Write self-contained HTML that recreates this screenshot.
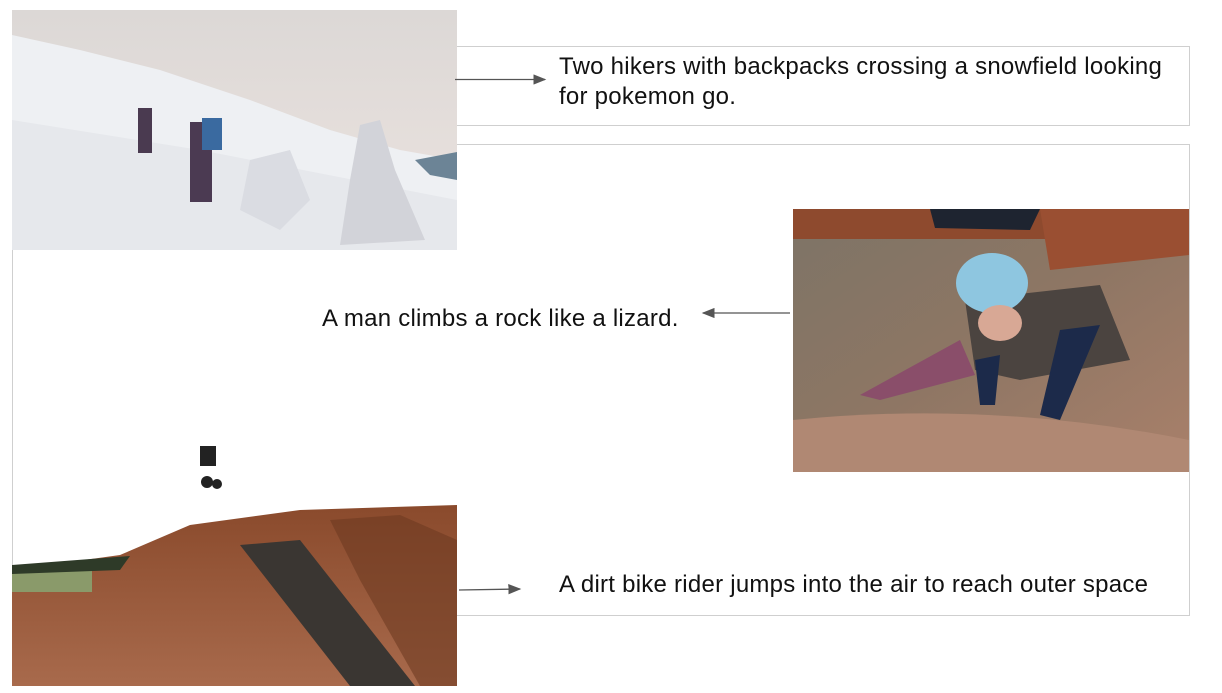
<!DOCTYPE html>
<html><head><meta charset="utf-8"><style>
html,body{margin:0;padding:0;background:#fff;width:1222px;height:693px;overflow:hidden;position:relative;font-family:"Liberation Sans",Arial,sans-serif;}
.box{position:absolute;border:1px solid #cfcfcf;box-sizing:border-box;}
.cap{position:absolute;font-size:24px;letter-spacing:0.25px;line-height:30px;color:#111;white-space:nowrap;}
svg{position:absolute;left:0;top:0;}
</style></head><body>
<div class="box" style="left:456px;top:46px;width:734px;height:80px;"></div>
<div class="box" style="left:12px;top:144px;width:1178px;height:472px;"></div>

<svg width="1222" height="693">
 <defs>
  <linearGradient id="sky" x1="0" y1="0" x2="0" y2="1"><stop offset="0" stop-color="#dcd8d6"/><stop offset="1" stop-color="#ece3df"/></linearGradient>
  <linearGradient id="rock" x1="0" y1="0" x2="1" y2="1"><stop offset="0" stop-color="#7d7466"/><stop offset="0.5" stop-color="#8e7664"/><stop offset="1" stop-color="#a9806a"/></linearGradient>
  <linearGradient id="dirt" x1="0" y1="0" x2="0" y2="1"><stop offset="0" stop-color="#8a4a2c"/><stop offset="1" stop-color="#a86a4c"/></linearGradient>
  <marker id="ah" markerWidth="10" markerHeight="8" refX="9" refY="4" orient="auto"><path d="M0,0 L10,4 L0,8 Z" fill="#555"/></marker>
 </defs>
 <g>
  <rect x="12" y="10" width="445" height="240" fill="url(#sky)"/>
  <path d="M12,35 L80,50 L160,70 L250,100 L330,130 L400,150 L457,160 L457,250 L12,250 Z" fill="#eef0f3"/>
  <path d="M12,120 L200,150 L457,200 L457,250 L12,250 Z" fill="#e6e8ec"/>
  <path d="M415,160 L457,152 L457,180 L430,175 Z" fill="#6c8496"/>
  <path d="M360,125 L380,120 L395,170 L425,240 L340,245 L350,180 Z" fill="#d2d3d9"/>
  <path d="M250,160 L290,150 L310,200 L280,230 L240,210 Z" fill="#dadce2"/>
  <rect x="138" y="108" width="14" height="45" fill="#4a3a50"/>
  <rect x="190" y="122" width="22" height="80" fill="#4b3a52"/>
  <rect x="202" y="118" width="20" height="32" fill="#3a6aa0"/>
 </g>
 <g>
  <rect x="793" y="209" width="396" height="263" fill="url(#rock)"/>
  <rect x="793" y="209" width="396" height="30" fill="#8e4a2e"/>
  <path d="M1040,209 L1189,209 L1189,255 L1050,270 Z" fill="#9a4f32"/>
  <path d="M930,209 L1040,209 L1030,230 L935,228 Z" fill="#1e2430"/>
  <path d="M860,395 L960,340 L975,375 L880,400 Z" fill="#8a4e6a"/>
  <path d="M965,300 L1100,285 L1130,360 L1020,380 L975,370 Z" fill="#4b4440"/>
  <path d="M1060,330 L1100,325 L1060,420 L1040,415 Z" fill="#1c2a4a"/>
  <path d="M975,360 L1000,355 L995,405 L980,405 Z" fill="#1c2a4a"/>
  <ellipse cx="992" cy="283" rx="36" ry="30" fill="#8ec6e0"/>
  <ellipse cx="1000" cy="323" rx="22" ry="18" fill="#d8a895"/>
  <path d="M793,420 Q990,400 1189,440 L1189,472 L793,472 Z" fill="#b08873"/>
 </g>
 <g>
  <path d="M12,570 L120,555 L190,525 L300,510 L457,505 L457,686 L12,686 Z" fill="url(#dirt)"/>
  <rect x="12" y="570" width="80" height="22" fill="#8a9a6a"/>
  <path d="M12,565 L130,556 L120,570 L12,574 Z" fill="#2e3a28"/>
  <path d="M240,545 L300,540 L415,686 L350,686 Z" fill="#3a3632"/>
  <path d="M330,520 L400,515 L457,540 L457,686 L420,686 L360,580 Z" fill="#6e3a22" opacity="0.6"/>
  <rect x="200" y="446" width="16" height="20" fill="#222"/>
  <circle cx="207" cy="482" r="6" fill="#222"/><circle cx="217" cy="484" r="5" fill="#222"/>
 </g>
 <line x1="455" y1="79.5" x2="545" y2="79.5" stroke="#555" stroke-width="1.3" marker-end="url(#ah)"/>
 <line x1="790" y1="313" x2="703" y2="313" stroke="#555" stroke-width="1.3" marker-end="url(#ah)"/>
 <line x1="459" y1="590" x2="520" y2="589" stroke="#555" stroke-width="1.3" marker-end="url(#ah)"/>
</svg>

<div class="cap" style="left:559px;top:52px;">Two hikers with backpacks crossing a snowfield looking<br>for pokemon go.</div>
<div class="cap" style="left:322px;top:304px;">A man climbs a rock like a lizard.</div>
<div class="cap" style="left:559px;top:570px;">A dirt bike rider jumps into the air to reach outer space</div>
</body></html>
